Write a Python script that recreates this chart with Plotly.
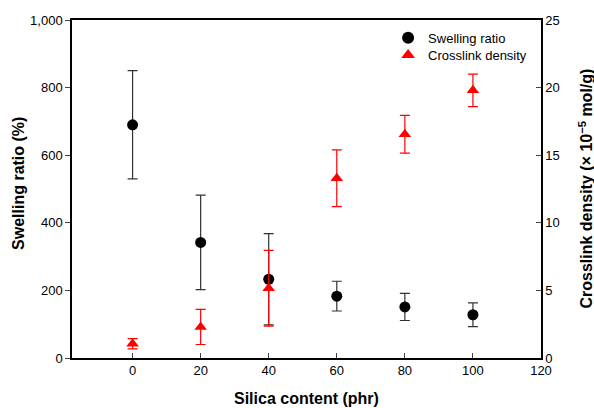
import plotly.graph_objects as go

silica = [0, 20, 40, 60, 80, 100]
swelling = [690, 342, 233, 183, 151, 128]
swelling_err = [160, 140, 135, 44, 40, 35]
crosslink = [1.06, 2.3, 5.16, 13.3, 16.55, 19.8]
crosslink_err = [0.38, 1.3, 2.8, 2.1, 1.4, 1.2]

x_ticks = [0, 20, 40, 60, 80, 100, 120]
y1_ticks = [0, 200, 400, 600, 800, 1000]
y2_ticks = [0, 5, 10, 15, 20, 25]

font_family = "Liberation Sans, Arial, sans-serif"

fig = go.Figure()
fig.add_trace(go.Scatter(
    x=silica, y=swelling, mode="markers", name="Swelling ratio",
    marker=dict(symbol="circle", size=11, color="black"),
    error_y=dict(type="data", array=swelling_err, color="#333333", thickness=1.2, width=5),
    yaxis="y", legend="legend",
))
fig.add_trace(go.Scatter(
    x=silica, y=crosslink, mode="markers", name="Crosslink density",
    marker=dict(symbol="triangle-up", size=11, color="#ff0000"),
    error_y=dict(type="data", array=crosslink_err, color="#ff0000", thickness=1.2, width=5),
    yaxis="y2", legend="legend2",
))

leg_common = dict(xanchor="left", yanchor="middle", bgcolor="rgba(0,0,0,0)",
                  font=dict(size=13), itemsizing="constant")

fig.update_layout(
    width=594, height=408,
    margin=dict(l=72, r=53, t=20, b=50),
    paper_bgcolor="white", plot_bgcolor="white",
    font=dict(family=font_family, size=13, color="black"),
    showlegend=True,
    legend=dict(x=0.674, y=0.947, **leg_common),
    legend2=dict(x=0.674, y=0.896, **leg_common),
    xaxis=dict(range=[-17.8, 120], tickvals=x_ticks, ticks="inside", ticklen=5,
               showline=True, linecolor="black", linewidth=1.5, mirror=True,
               showgrid=False, zeroline=False, tickfont=dict(size=13)),
    yaxis=dict(range=[0, 1000], tickvals=y1_ticks, tickformat=",", ticks="outside", ticklen=5,
               showline=True, linecolor="black", linewidth=1.5,
               showgrid=False, zeroline=False, tickfont=dict(size=13)),
    yaxis2=dict(range=[0, 25], tickvals=y2_ticks, overlaying="y", side="right",
                ticks="inside", ticklen=5, showline=True, linecolor="black", linewidth=1.5,
                showgrid=False, zeroline=False, tickfont=dict(size=13)),
    annotations=[
        dict(text="<b>Silica content (phr)</b>", xref="paper", yref="paper",
             x=0.5, y=-0.121, xanchor="center", yanchor="middle", showarrow=False,
             font=dict(size=16)),
        dict(text="<b>Swelling ratio (%)</b>", xref="paper", yref="paper",
             x=-0.113, y=0.515, xanchor="center", yanchor="middle", showarrow=False,
             textangle=-90, font=dict(size=16)),
        dict(text="<b>Crosslink density (× 10<sup>−5</sup> mol/g)</b>", xref="paper", yref="paper",
             x=1.095, y=0.5, xanchor="center", yanchor="middle", showarrow=False,
             textangle=-90, font=dict(size=16)),
    ],
)

fig.write_html("out.html")
